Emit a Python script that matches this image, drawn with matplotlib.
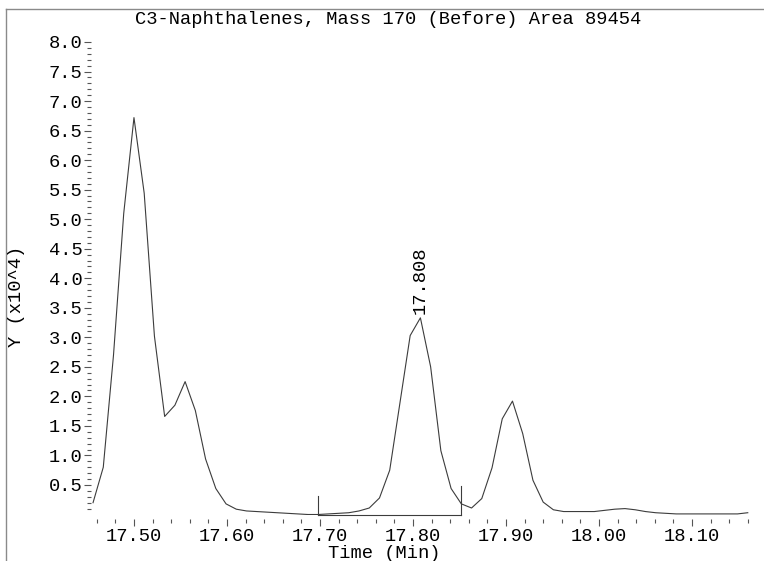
import matplotlib.pyplot as plt
from matplotlib.lines import Line2D
from matplotlib.ticker import MultipleLocator, FixedLocator, FormatStrFormatter

#####  Data  #####
title = 'C3-Naphthalenes, Mass 170 (Before) Area 89454'
time_min = [17.456, 17.467, 17.478, 17.489, 17.500, 17.511, 17.522, 17.533, 17.544, 17.555,
            17.566, 17.577, 17.588, 17.599, 17.610, 17.621, 17.632, 17.643, 17.654, 17.665,
            17.676, 17.687, 17.698, 17.709, 17.720, 17.731, 17.742, 17.753, 17.764, 17.775,
            17.786, 17.797, 17.808, 17.819, 17.830, 17.841, 17.852, 17.863, 17.874, 17.885,
            17.896, 17.907, 17.918, 17.929, 17.940, 17.951, 17.962, 17.973, 17.984, 17.995,
            18.006, 18.017, 18.028, 18.039, 18.050, 18.061, 18.072, 18.083, 18.094, 18.105,
            18.116, 18.127, 18.138, 18.149, 18.160]
# intensity in units of 10^4
y_vals = [0.20, 0.80, 2.70, 5.10, 6.72, 5.44, 3.02, 1.66, 1.85, 2.25,
          1.76, 0.94, 0.44, 0.18, 0.09, 0.06, 0.05, 0.04, 0.03, 0.02,
          0.01, 0.00, 0.00, 0.01, 0.02, 0.03, 0.06, 0.11, 0.28, 0.75,
          1.89, 3.03, 3.33, 2.50, 1.08, 0.44, 0.18, 0.11, 0.27, 0.79,
          1.62, 1.92, 1.37, 0.58, 0.21, 0.08, 0.05, 0.05, 0.05, 0.05,
          0.07, 0.09, 0.10, 0.08, 0.05, 0.03, 0.02, 0.01, 0.01, 0.01,
          0.01, 0.01, 0.01, 0.01, 0.03]
peak_time = 17.808
peak_y = 3.33
peak_label = '17.808'
# integration window (start, end) and the marker heights
integ_t = [17.698, 17.852]
integ_h = [0.32, 0.49]

#####  Figure  #####
W, H = 764, 561
font = 'Liberation Mono'
fs = 13.5
fig = plt.figure(figsize=(W / 100, H / 100), dpi=100)

# axes placed in pixels: left 91, right 750, top 42, bottom 514.5
ax = fig.add_axes([91 / W, (H - 514.5) / H, (750 - 91) / W, (514.5 - 42) / H])
ax.set_xlim(17.4538, 18.1624)
ax.set_ylim(0, 8.0)

ax.plot(time_min, y_vals, color='#3c3c3c', lw=0.8)

# integration baseline + markers
ax.plot(integ_t, [0, 0], color='#3c3c3c', lw=0.8, clip_on=False)
for t, h in zip(integ_t, integ_h):
    ax.plot([t, t], [0, h], color='#3c3c3c', lw=0.8, clip_on=False)

ax.annotate(peak_label, (peak_time, peak_y), xytext=(0, 3), textcoords='offset points',
            rotation=90, ha='center', va='bottom', family=font, fontsize=fs)

for s in ax.spines.values():
    s.set_visible(False)
ax.spines['bottom'].set_position(('outward', 3))

ax.xaxis.set_major_locator(MultipleLocator(0.1))
ax.xaxis.set_minor_locator(MultipleLocator(0.02))
ax.xaxis.set_major_formatter(FormatStrFormatter('%.2f'))
ax.yaxis.set_major_locator(FixedLocator([v / 10 for v in range(5, 81, 5)]))
ax.yaxis.set_minor_locator(FixedLocator([v / 10 for v in range(1, 81)]))
ax.yaxis.set_major_formatter(FormatStrFormatter('%.1f'))

ax.tick_params(which='major', length=5, width=0.8, color='#555555')
ax.tick_params(which='minor', length=3, width=0.8, color='#555555')
ax.tick_params(axis='x', pad=2)
ax.tick_params(axis='y', pad=1)
for lab in ax.get_xticklabels() + ax.get_yticklabels():
    lab.set_family(font)
    lab.set_fontsize(fs)

fig.text(388 / W, 1 - 20 / H, title, ha='center', va='center', family=font, fontsize=fs)
fig.text(384 / W, 1 - 553 / H, 'Time (Min)', ha='center', va='center', family=font, fontsize=fs)
fig.text(17 / W, 1 - 296 / H, 'Y (x10^4)', ha='center', va='center', rotation=90,
         family=font, fontsize=fs)

# outer frame (left and top only)
fig.add_artist(Line2D([5.5 / W, 5.5 / W], [0, 1 - 8.5 / H], color='#8a8a8a', lw=1))
fig.add_artist(Line2D([5.5 / W, 1], [1 - 8.5 / H, 1 - 8.5 / H], color='#8a8a8a', lw=1))

fig.savefig('out.png', dpi=100)
